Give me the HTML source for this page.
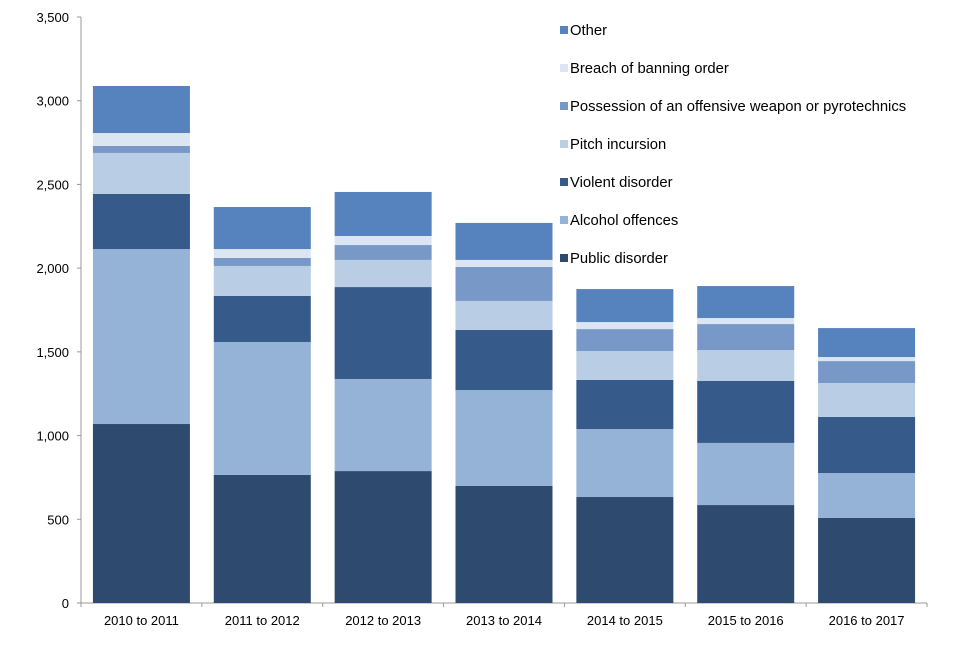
<!DOCTYPE html>
<html><head><meta charset="utf-8"><style>
body{margin:0;background:#fff;font-family:"Liberation Sans",Arial,sans-serif}
svg text{font-family:"Liberation Sans",Arial,sans-serif}
</style></head><body>
<svg id="chart" width="960" height="640" viewBox="0 0 960 640"></svg>
<script>
const categories=["2010 to 2011","2011 to 2012","2012 to 2013","2013 to 2014","2014 to 2015","2015 to 2016","2016 to 2017"];
const seriesNames=["Public disorder","Alcohol offences","Violent disorder","Pitch incursion","Possession of an offensive weapon or pyrotechnics","Breach of banning order","Other"];
const publicDisorder=[1069,765,788,699,633,585,508];
const alcohol=[1045,794,550,573,406,371,268];
const violent=[329,275,549,359,293,370,335];
const pitch=[245,179,162,173,173,185,203];
const possession=[42,48,89,203,131,155,131];
const breach=[77,53,54,42,42,36,24];
const other=[281,251,263,221,197,191,173];
const yTicks=[0,500,1000,1500,2000,2500,3000,3500];
const yTickLabels=["0","500","1,000","1,500","2,000","2,500","3,000","3,500"];
const series=[publicDisorder,alcohol,violent,pitch,possession,breach,other];
const colors=["#2e4a6f","#95b3d7","#365a8a","#b9cde5","#7899c8","#dce6f2","#5682be"];
const svg=document.getElementById('chart');
const NS="http://www.w3.org/2000/svg";
const x0=81,x1=927,y0=603,yTop=17,maxV=3500;
const y=v=>y0-(v/maxV)*(y0-yTop);
const band=(x1-x0)/categories.length;
const xc=i=>x0+band*(i+0.5);
const bw=97;
function mk(t,a){const e=document.createElementNS(NS,t);for(const k in a)e.setAttribute(k,a[k]);svg.appendChild(e);return e;}
let ax=mk('line',{x1:x0,y1:yTop,x2:x0,y2:y0,stroke:'#999','stroke-width':1});


let bx=mk('line',{x1:x0,y1:y0,x2:x1,y2:y0,stroke:'#999','stroke-width':1});


yTicks.forEach((v,i)=>{
 const t=mk('line',{x1:x0-4,y1:y(v),x2:x0,y2:y(v),stroke:'#999'});
 
 
 const l=mk('text',{x:69,y:y(v)+5,'text-anchor':'end','font-size':13,fill:'#000'});
 l.textContent=yTickLabels[i];
 
 
});
for(let i=0;i<=categories.length;i++){
 const t=mk('line',{x1:x0+band*i,y1:y0,x2:x0+band*i,y2:y0+4,stroke:'#999'});
 
 
}
categories.forEach((c,i)=>{
 let acc=0;
 series.forEach((s,j)=>{
  const r=mk('rect',{x:xc(i)-bw/2,y:y(acc+s[i]),width:bw,height:y(acc)-y(acc+s[i]),fill:colors[j]});
  
  
  acc+=s[i];
 });
 const l=mk('text',{x:xc(i),y:625,'text-anchor':'middle','font-size':13,fill:'#000'});
 l.textContent=c;
 
 
});
for(let k=0;k<seriesNames.length;k++){
 const j=seriesNames.length-1-k;
 const ly=30+k*38;
 const r=mk('rect',{x:560,y:ly-4,width:8,height:8,fill:colors[j]});
 
 
 const t=mk('text',{x:570,y:ly+5,'font-size':14.8,fill:'#000'});
 t.textContent=seriesNames[j];
 
 
}
</script>
</body></html>
